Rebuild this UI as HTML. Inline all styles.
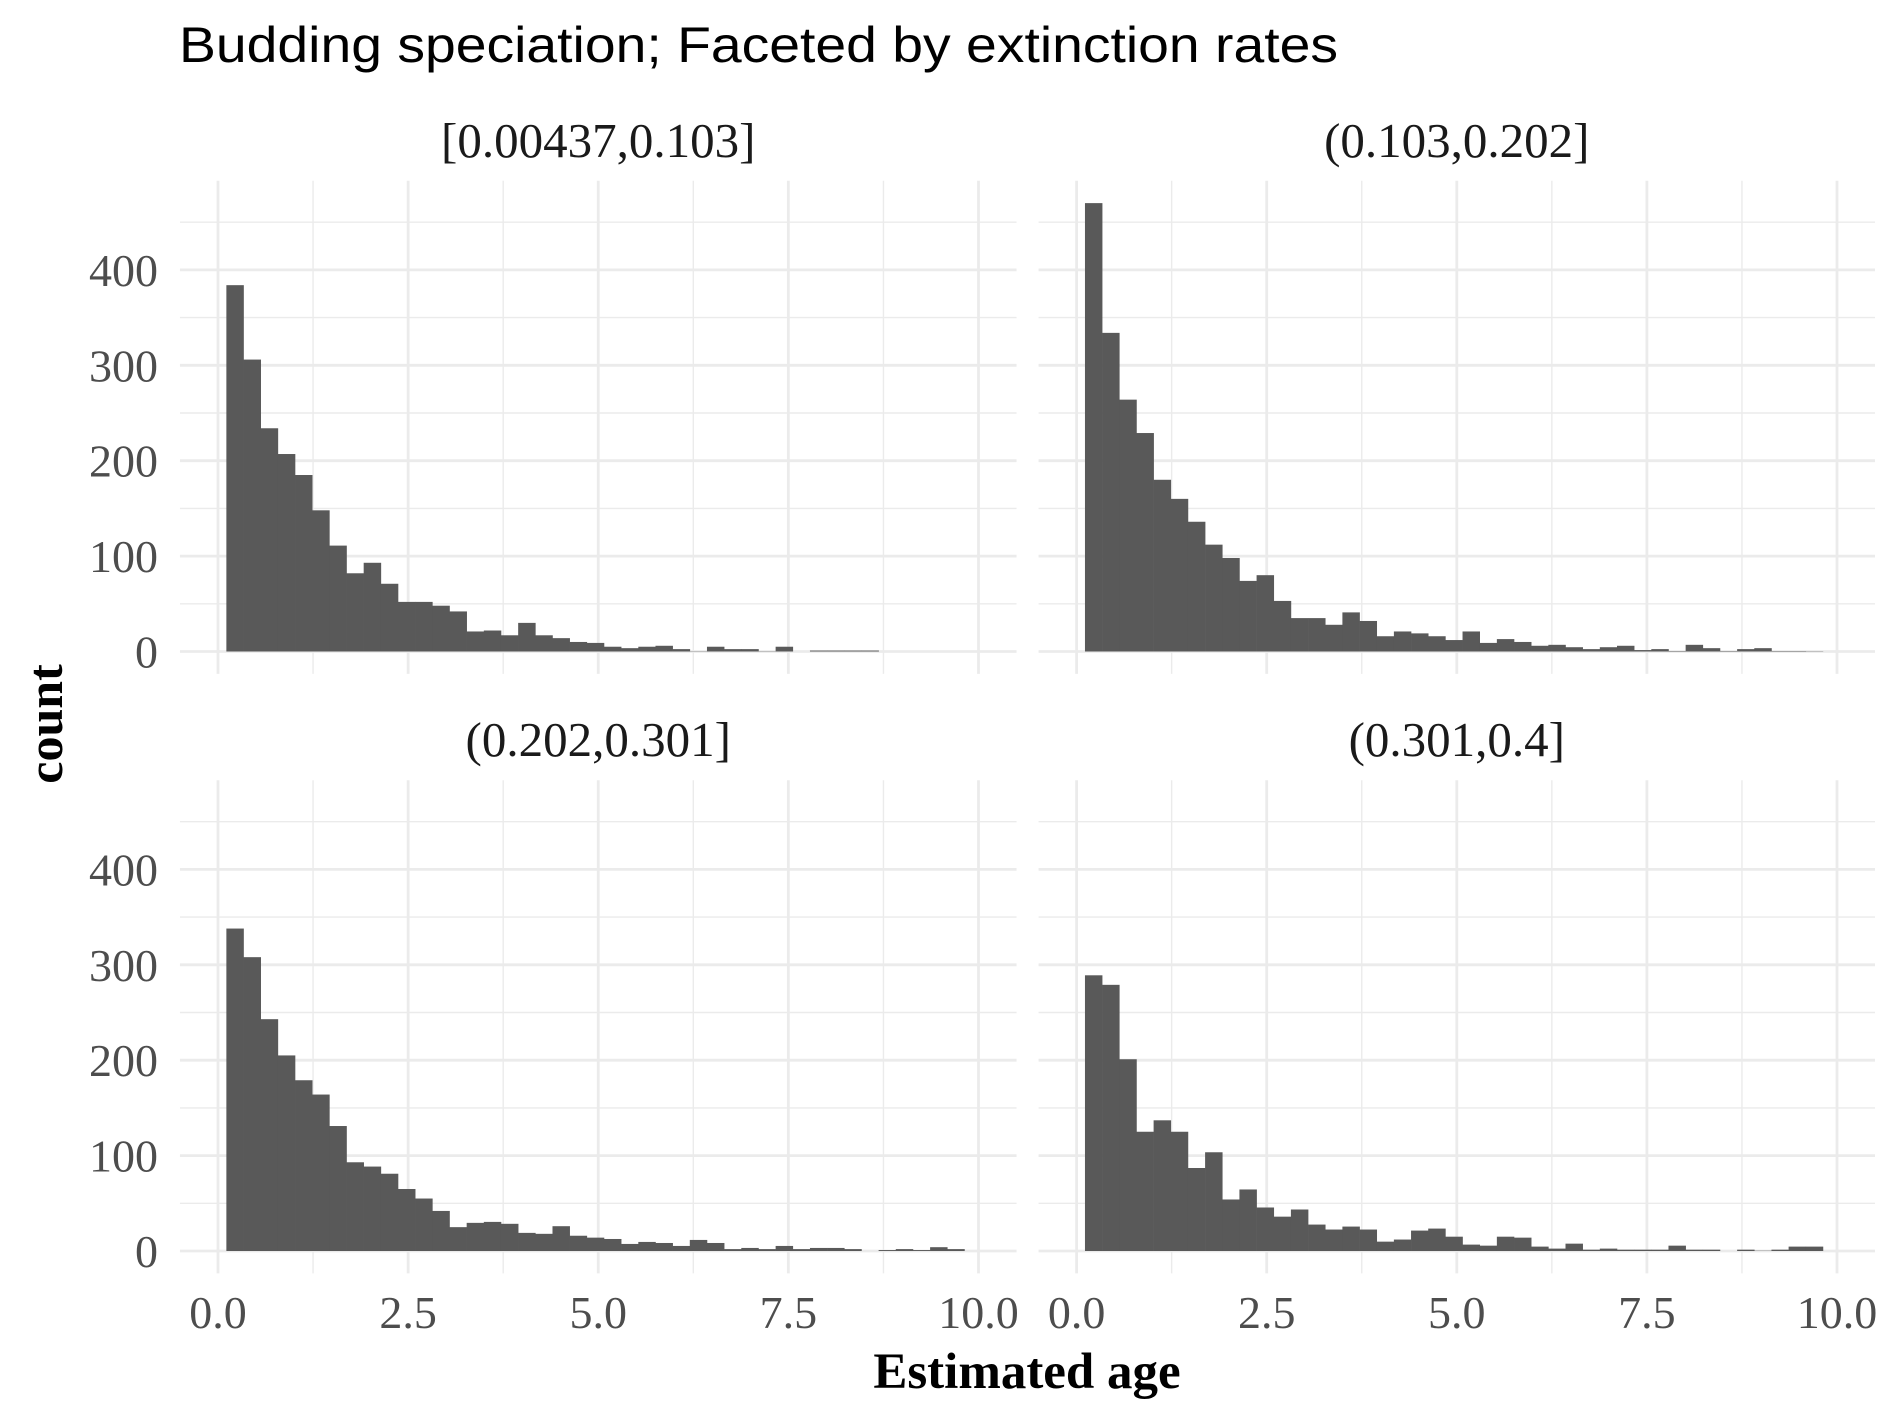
<!DOCTYPE html>
<html><head><meta charset="utf-8"><style>html,body{margin:0;padding:0;background:#fff}svg{display:block}</style></head>
<body>
<svg id="chart" width="1889" height="1417" viewBox="0 0 1889 1417" xmlns="http://www.w3.org/2000/svg">
<rect width="1889" height="1417" fill="#fff"/>
<text x="179" y="62" textLength="1159" lengthAdjust="spacingAndGlyphs" font-family="Liberation Sans, sans-serif" font-size="50" fill="#000">Budding speciation; Faceted by extinction rates</text>
<g id="plots"></g>
<text x="1027" y="1388" text-anchor="middle" font-family="Liberation Serif, serif" font-weight="bold" font-size="51" fill="#000">Estimated age</text>
<text transform="translate(62,724) rotate(-90)" text-anchor="middle" font-family="Liberation Serif, serif" font-weight="bold" font-size="50" fill="#000">count</text>
</svg>
<script>
const facetLabels = ["[0.00437,0.103]", "(0.103,0.202]", "(0.202,0.301]", "(0.301,0.4]"];
const binStart = 0.11;
const binWidth = 0.2257;
const countsA = [384,306,234,207,185,148,111,82,93,71,52,52,48,42,21,22,17,30,17,14,10,9,5,3.5,5,6,2.5,0.3,5,2.5,2.5,0.3,5,0,1,1,1,1,0,0,0,0,0];
const countsB = [470,334,264,229,180,160,136,112,98,74,80,53,35,35,28,41,32,16,21,19,16,12,21,9,13,10,6,7,4.5,2.5,4.5,6,1.5,2.5,0.5,7,3.5,0.5,2.5,3.5,0.5,0.5,0.3];
const countsC = [338,308,243,205,179,164,131,93,88.5,81,65,55,42,25,29.5,30.5,28.5,19,18,26,16,14,12.6,7.4,9.5,8.4,5.3,11.6,8.4,2,3.2,2,5.3,2,3.2,3.2,2,0,1,2,1,4,2];
const countsD = [289,279,201,125,137,125,87,103.5,54,64.5,45.6,36,43.5,27.7,22.5,25.6,22.5,9.8,12,21.4,23.5,15,6.7,5.6,15,14,4.6,2.5,7.7,1.4,2.5,1.4,1.4,1.4,5.6,1.4,1.4,0,1.4,0.3,1.4,4.6,4.6];
const xTicks = [0, 2.5, 5, 7.5, 10];
const xTickLabels = ["0.0", "2.5", "5.0", "7.5", "10.0"];
const yTicks = [0, 100, 200, 300, 400];
const yTickLabels = ["0", "100", "200", "300", "400"];

const NS = "http://www.w3.org/2000/svg";
const root = document.getElementById("plots");
const allCounts = [countsA, countsB, countsC, countsD];
const panels = [
  {x0: 218, x10: 978.5, base: 651.5, row: 0, col: 0},
  {x0: 1076.6, x10: 1837, base: 651.5, row: 0, col: 1},
  {x0: 218, x10: 978.5, base: 1251, row: 1, col: 0},
  {x0: 1076.6, x10: 1837, base: 1251, row: 1, col: 1}
];
const pxPer100 = 95.4;
function mk(tag, attrs) { const e = document.createElementNS(NS, tag); for (const k in attrs) e.setAttribute(k, attrs[k]); return e; }

panels.forEach((p, i) => {
  const g = mk("g", {});
  
  
  root.appendChild(g);
  const sx = v => p.x0 + (p.x10 - p.x0) * v / 10;
  const sy = v => p.base - pxPer100 * v / 100;
  const left = sx(-0.5), right = sx(10.5), top = sy(493.5), bottom = sy(-23.5);
  for (let v = 1.25; v < 10.5; v += 2.5) {
    const l = mk("line", {x1: sx(v), x2: sx(v), y1: top, y2: bottom, stroke: "#EBEBEB", "stroke-width": 1.4});
    
    
    g.appendChild(l);
  }
  for (let v = 50; v < 493; v += 100) {
    const l = mk("line", {x1: left, x2: right, y1: sy(v), y2: sy(v), stroke: "#EBEBEB", "stroke-width": 1.4});
    
    
    g.appendChild(l);
  }
  xTicks.forEach(v => {
    const l = mk("line", {x1: sx(v), x2: sx(v), y1: top, y2: bottom, stroke: "#EBEBEB", "stroke-width": 2.8});
    
    
    g.appendChild(l);
  });
  yTicks.forEach(v => {
    const l = mk("line", {x1: left, x2: right, y1: sy(v), y2: sy(v), stroke: "#EBEBEB", "stroke-width": 2.8});
    
    
    g.appendChild(l);
  });
  allCounts[i].forEach((c, k) => {
    if (c <= 0) return;
    const xa = sx(binStart + k * binWidth), xb = sx(binStart + (k + 1) * binWidth);
    const r = mk("rect", {x: xa, y: sy(c), width: xb - xa + 0.3, height: sy(0) - sy(c), fill: "#595959"});
    
    
    g.appendChild(r);
  });
  const st = mk("text", {x: (left + right) / 2, y: p.row === 0 ? 157 : 756, "text-anchor": "middle", "font-family": "Liberation Serif, serif", "font-size": 49, fill: "#1A1A1A"});
  st.textContent = facetLabels[i];
  
  
  g.appendChild(st);
  if (p.col === 0) {
    yTicks.forEach((v, k) => {
      const t = mk("text", {x: 158, y: sy(v) + 16, "text-anchor": "end", "font-family": "Liberation Serif, serif", "font-size": 46, fill: "#4D4D4D"});
      t.textContent = yTickLabels[k];
      
      
      g.appendChild(t);
    });
  }
  if (p.row === 1) {
    xTicks.forEach((v, k) => {
      const t = mk("text", {x: sx(v), y: 1328, "text-anchor": "middle", "font-family": "Liberation Serif, serif", "font-size": 46, fill: "#4D4D4D"});
      t.textContent = xTickLabels[k];
      
      
      g.appendChild(t);
    });
  }
});
</script>
</body></html>
